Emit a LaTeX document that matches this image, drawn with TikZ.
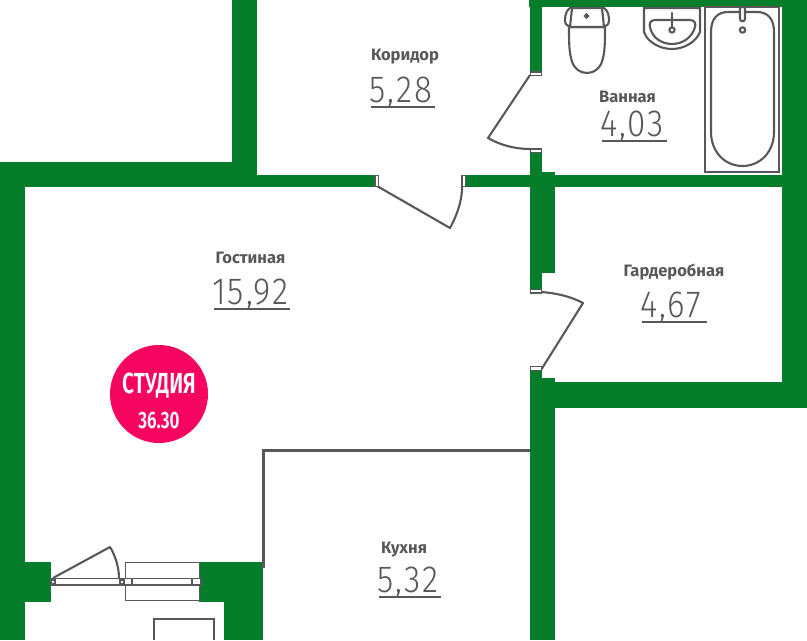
\documentclass[tikz,border=0pt]{standalone}
\usepackage{fontspec}
\setmainfont{Fira Sans}
\newfontfamily\numfont[UprightFont=* Light,LetterSpace=5,FakeStretch=0.88]{Fira Sans}
\newfontfamily\narrowfont[FakeStretch=0.72,UprightFont=* SemiBold]{Fira Sans}
\definecolor{wallgreen}{HTML}{057D2A}
\definecolor{linegray}{HTML}{58585A}
\definecolor{badgepink}{HTML}{F5055F}
\tikzset{
  wall/.style={fill=wallgreen,draw=none},
  frame/.style={draw=linegray,fill=white,line width=0.3mm},
  leaf/.style={draw=linegray,line width=0.42mm,line join=round},
  fixture/.style={draw=linegray,line width=0.42mm,fill=white},
  roomname/.style={font=\fontsize{9.4}{11}\selectfont\bfseries,text=linegray,inner sep=0pt},
  roomarea/.style={font=\fontsize{21.5}{24}\numfont,text=linegray,inner sep=0pt,anchor=west},
  arealine/.style={draw=linegray,line width=0.42mm}
}
\begin{document}
\begin{tikzpicture}[x=0.02cm,y=-0.02cm]
\useasboundingbox (0,0) rectangle (807,640);

% walls
\fill[wall] (232,0) rectangle (257,187);
\fill[wall] (0,162) rectangle (232,187);
\fill[wall] (257,175) rectangle (377,187);
\fill[wall] (0,162) rectangle (25,640);
\fill[wall] (0,562) rectangle (51,602);
\fill[wall] (199,562) rectangle (263,602);
\fill[wall] (224,562) rectangle (263,640);
\fill[wall] (529,0) rectangle (807,7);
\fill[wall] (530,0) rectangle (542,75);
\fill[wall] (530,150) rectangle (542,290);
\fill[wall] (530,172) rectangle (555,273);
\fill[wall] (464,175) rectangle (807,187);
\fill[wall] (782,0) rectangle (807,408);
\fill[wall] (530,368) rectangle (542,640);
\fill[wall] (530,378) rectangle (555,640);
\fill[wall] (530,382) rectangle (807,408);

% kitchen partition
\draw[leaf,line join=miter] (530,450.5) -- (263.5,450.5) -- (263.5,568);

% doors
\draw[leaf] (377,186) -- (450,228) .. controls (458,213) and (462,200) .. (462,187);
\draw[leaf] (541,370) -- (583,303) .. controls (570,296) and (555,293) .. (541,292);
\draw[leaf] (530,75) -- (488,138) .. controls (500,145) and (515,149) .. (530,149);
\draw[frame] (375,175.5) rectangle (378.5,186.5);
\draw[frame] (462,175.5) rectangle (465.5,186.5);
\draw[frame] (530.5,72) rectangle (541.5,75.5);
\draw[frame] (530.5,149) rectangle (541.5,152.5);
\draw[frame] (530.5,289.5) rectangle (541.5,293);
\draw[frame] (530.5,366.5) rectangle (541.5,370.5);

% balcony door and window
\draw[draw=linegray,fill=white,line width=0.2mm] (125.5,562.5) rectangle (199,600.5);
\draw[frame] (51,578.5) rectangle (201,585);
\foreach \x in {56,122,133,193}
   \draw[frame] (\x-1,578.5) -- (\x-1,585);
\fill[linegray] (50,578) rectangle (56,585);
\fill[white] (52,580.5) rectangle (54,583);
\fill[linegray] (119,578) rectangle (125,585);
\fill[white] (121,580.5) rectangle (123,583);
\draw[leaf] (53,578) -- (110,547) .. controls (115,555) and (119,567) .. (119,578);
\draw[draw=linegray,line width=0.5mm] (154,640) -- (154,619) -- (214,619) -- (214,640);

% toilet
\draw[fixture] (569,27) .. controls (569,40) and (569,50) .. (571,58) .. controls (573,69) and (581,73) .. (587,73) .. controls (593,73) and (601,69) .. (603,58) .. controls (605,50) and (605,40) .. (605,27) -- cycle;
\draw[fixture] (570,8) -- (604,8) .. controls (607,10) and (609,14) .. (609,20) .. controls (609,24) and (607,26) .. (604,27) -- (570,27) .. controls (567,26) and (565,24) .. (565,20) .. controls (565,14) and (567,10) .. (570,8) -- cycle;
\draw[leaf] (572,8) -- (570,27) (602,8) -- (604,27);
\draw[fixture] (586.5,16) circle (1.7);

% sink
\draw[fixture] (644,8) -- (700,8) -- (700,32) .. controls (696,42) and (684,49) .. (672,49) .. controls (660,49) and (648,42) .. (645,34) -- (644,32) -- cycle;
\draw[fixture] (655,20) -- (690,20) .. controls (695,20) and (696,24) .. (695,27) .. controls (692,38) and (682,44) .. (672,44) .. controls (662,44) and (652,38) .. (650,27) .. controls (649,24) and (650,20) .. (655,20) -- cycle;
\draw[fixture,line cap=round] (672,13) -- (672,29);
\draw[fixture] (672,30) circle (2.6);

% bath
\draw[draw=linegray,fill=white,line width=0.55mm] (705,7) rectangle (779,172);
\draw[fixture] (711,32) .. controls (711,18) and (718,12) .. (728,12) -- (757,12) .. controls (767,12) and (774,18) .. (774,32) -- (774,132) .. controls (774,152) and (760,166) .. (742.5,166) .. controls (725,166) and (711,152) .. (711,132) -- cycle;
\draw[fixture] (740,7) -- (745,7) -- (745,19) .. controls (745,22) and (740,22) .. (740,19) -- cycle;
\draw[fixture] (742.5,30) circle (2.7);

% rooms
\foreach \rname/\rtext/\nx/\ny/\rarea/\ax/\ay/\aw in {
   corridor/Коридор/405/57/{5,28}/369/93/64,
   bathroom/Ванная/627.5/96.5/{4,03}/600/127/65,
   living/Гостиная/250.5/257.5/{15,92}/212/295/76,
   wardrobe/Гардеробная/674/272/{4,67}/640/308/65,
   kitchen/Кухня/404/549.5/{5,32}/377/583/62}
{
   \node[roomname] (\rname) at (\nx,\ny) {\rtext};
   \node[roomarea] (\rname area) at (\ax,\ay) {\rarea};
   \draw[arealine] (\ax+2,\ay+14) -- (\ax+2+\aw,\ay+14);
}

% badge
\fill[badgepink] (159,394) circle (49);
\node[font=\fontsize{16.5}{18}\narrowfont,text=white,inner sep=0pt] (studio) at (159,386) {СТУДИЯ};
\node[font=\fontsize{13.5}{15}\narrowfont,text=white,inner sep=0pt] (studioarea) at (159,421) {36.30};

\end{tikzpicture}
\end{document}
